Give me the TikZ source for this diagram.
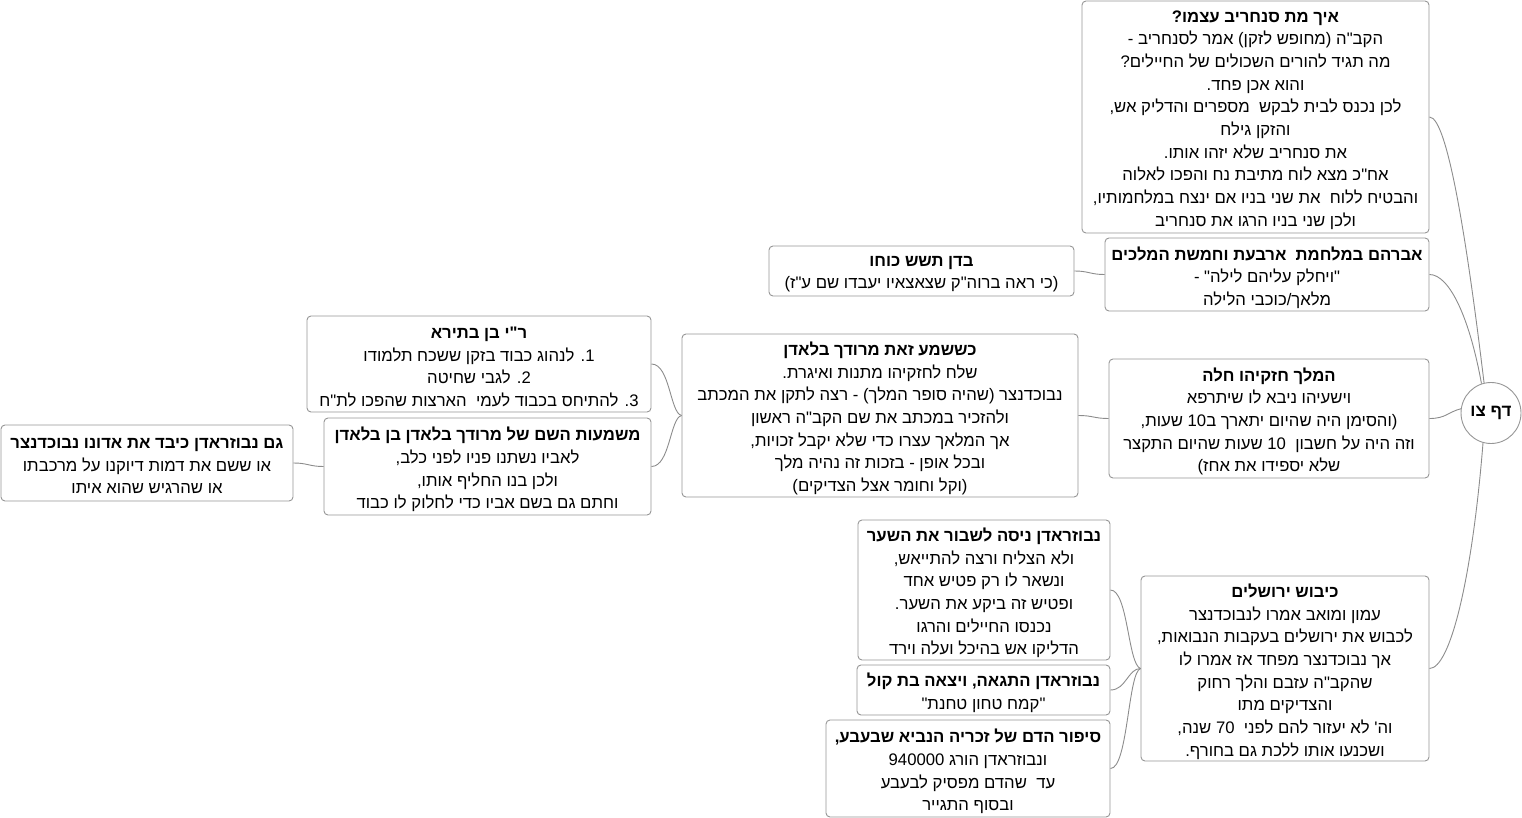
\documentclass[tikz,border=0pt]{standalone}
\usepackage{fontspec}
\setmainfont{Liberation Sans}
\newfontfamily\heb[Script=Hebrew]{Liberation Sans}
\TeXXeTstate=1
\usetikzlibrary{shapes.geometric}
\newcommand{\rl}[1]{\beginR #1\endR}
\definecolor{boxgray}{RGB}{150,150,150}
\definecolor{linegray}{RGB}{140,140,140}
\begin{document}
\begin{tikzpicture}[x=1pt,y=-1pt,
  frame/.style={draw=boxgray, line width=0.9pt, rounded corners=4pt, fill=white, inner sep=0pt},
  txt/.style={align=center, inner sep=0pt, font=\heb\fontsize{16.7}{22.65}\selectfont},
  rootnode/.style={draw=boxgray, line width=0.9pt, ellipse, fill=white, inner sep=0pt,
    font=\heb\fontsize{17}{20}\selectfont\bfseries},
  link/.style={draw=linegray, line width=0.9pt}]
\useasboundingbox (0,0) rectangle (1522,818);

\node[rootnode, minimum width=60pt, minimum height=61pt] (root) at (1491,413) {\rl{דף צו}};

% frames
\node[frame, minimum width=347pt, minimum height=232pt] (A) at (1255.5,117) {};
\node[frame, minimum width=324pt, minimum height=73pt] (B) at (1267,274.5) {};
\node[frame, minimum width=305pt, minimum height=50pt] (C) at (921.5,271) {};
\node[frame, minimum width=320pt, minimum height=119pt] (D) at (1269,418.5) {};
\node[frame, minimum width=396pt, minimum height=163pt] (E) at (880,415.5) {};
\node[frame, minimum width=344pt, minimum height=96pt] (F) at (479,364) {};
\node[frame, minimum width=327pt, minimum height=97pt] (G) at (487.5,466.5) {};
\node[frame, minimum width=292pt, minimum height=76pt] (H) at (147,463) {};
\node[frame, minimum width=288pt, minimum height=185pt] (I) at (1285,668.5) {};
\node[frame, minimum width=252pt, minimum height=140pt] (J) at (984,590) {};
\node[frame, minimum width=253pt, minimum height=50pt] (K) at (983.5,690) {};
\node[frame, minimum width=284pt, minimum height=97pt] (L) at (968,768.5) {};

% texts
\node[txt] (At) at ([yshift=-3pt]A.center) {%
\rl{\textbf{איך מת סנחריב עצמו?}}\\
\rl{הקב"ה (מחופש לזקן) אמר לסנחריב -}\\
\rl{מה תגיד להורים השכולים של החיילים?}\\
\rl{והוא אכן פחד.}\\
\rl{לכן נכנס לבית לבקש\ \ מספרים והדליק אש,}\\
\rl{והזקן גילח}\\
\rl{את סנחריב שלא יזהו אותו.}\\
\rl{אח"כ מצא לוח מתיבת נח והפכו לאלוה}\\
\rl{והבטיח ללוח\ \ את שני בניו אם ינצח במלחמותיו,}\\
\rl{ולכן שני בניו הרגו את סנחריב}};

\node[txt] (Bt) at ([yshift=-3pt]B.center) {%
\rl{\textbf{אברהם במלחמת\ \ ארבעת וחמשת המלכים}}\\
\rl{"ויחלק עליהם לילה" -}\\
\rl{מלאך/כוכבי הלילה}};

\node[txt] (Ct) at ([yshift=-3pt]C.center) {%
\rl{\textbf{בדן תשש כוחו}}\\
\rl{(כי ראה ברוה"ק שצאצאיו יעבדו שם ע"ז)}};

\node[txt] (Dt) at ([yshift=-3pt]D.center) {%
\rl{\textbf{המלך חזקיהו חלה}}\\
\rl{וישעיהו ניבא לו שיתרפא}\\
\rl{(והסימן היה שהיום יתארך ב10 שעות,}\\
\rl{וזה היה על חשבון\ \ 10 שעות שהיום התקצר}\\
\rl{שלא יספידו את אחז)}};

\node[txt] (Et) at ([yshift=-3pt]E.center) {%
\rl{\textbf{כששמע זאת מרודך בלאדן}}\\
\rl{שלח לחזקיהו מתנות ואיגרת.}\\
\rl{נבוכדנצר (שהיה סופר המלך) - רצה לתקן את המכתב}\\
\rl{ולהזכיר במכתב את שם הקב"ה ראשון}\\
\rl{אך המלאך עצרו כדי שלא יקבל זכויות,}\\
\rl{ובכל אופן - בזכות זה נהיה מלך}\\
\rl{(וקל וחומר אצל הצדיקים)}};

\node[txt] (Ft) at ([yshift=-3pt]F.center) {%
\rl{\textbf{ר"י בן בתירא}}\\
\rl{1. לנהוג כבוד בזקן ששכח תלמודו}\\
\rl{2. לגבי שחיטה}\\
\rl{3. להתיחס בכבוד לעמי\ \ הארצות שהפכו לת"ח}};

\node[txt] (Gt) at ([yshift=-3pt]G.center) {%
\rl{\textbf{משמעות השם של מרודך בלאדן בן בלאדן}}\\
\rl{לאביו נשתנו פניו לפני כלב,}\\
\rl{ולכן בנו החליף אותו,}\\
\rl{וחתם גם בשם אביו כדי לחלוק לו כבוד}};

\node[txt] (Ht) at ([yshift=-3pt]H.center) {%
\rl{\textbf{גם נבוזראדן כיבד את אדונו נבוכדנצר}}\\
\rl{או ששם את דמות דיוקנו על מרכבתו}\\
\rl{או שהרגיש שהוא איתו}};

\node[txt] (It) at ([yshift=-3pt]I.center) {%
\rl{\textbf{כיבוש ירושלים}}\\
\rl{עמון ומואב אמרו לנבוכדנצר}\\
\rl{לכבוש את ירושלים בעקבות הנבואות,}\\
\rl{אך נבוכדנצר מפחד אז אמרו לו}\\
\rl{שהקב"ה עזבם והלך רחוק}\\
\rl{והצדיקים מתו}\\
\rl{וה' לא יעזור להם לפני\ \ 70 שנה,}\\
\rl{ושכנעו אותו ללכת גם בחורף.}};

\node[txt] (Jt) at ([yshift=-3pt]J.center) {%
\rl{\textbf{נבוזראדן ניסה לשבור את השער}}\\
\rl{ולא הצליח ורצה להתייאש,}\\
\rl{ונשאר לו רק פטיש אחד}\\
\rl{ופטיש זה ביקע את השער.}\\
\rl{נכנסו החיילים והרגו}\\
\rl{הדליקו אש בהיכל ועלה וירד}};

\node[txt] (Kt) at ([yshift=-3pt]K.center) {%
\rl{\textbf{נבוזראדן התגאה, ויצאה בת קול}}\\
\rl{"קמח טחון טחנת"}};

\node[txt] (Lt) at ([yshift=-3pt]L.center) {%
\rl{\textbf{סיפור הדם של זכריה הנביא שבעבע,}}\\
\rl{ונבוזראדן הורג 940000}\\
\rl{עד\ \ שהדם מפסיק לבעבע}\\
\rl{ובסוף התגייר}};

% root connectors
\draw[link] (root.103) .. controls (1468,250) and (1448,117) .. (A.east);
\draw[link] (root.108) .. controls (1470,320) and (1450,274.5) .. (B.east);
\draw[link] (root.172) .. controls (1448,412) and (1446,418.5) .. (D.east);
\draw[link] (root.-105) .. controls (1472,580) and (1450,668.5) .. (I.east);
% sub connectors
\draw[link] (B.west) .. controls (1090,274.5) and (1089,271) .. (C.east);
\draw[link] (D.west) .. controls (1094,418.5) and (1093,415.5) .. (E.east);
\draw[link] (E.west) .. controls (670,413) and (670,364) .. (F.east);
\draw[link] (E.west) .. controls (670,418) and (670,466.5) .. (G.east);
\draw[link] (G.west) .. controls (309,466.5) and (308,463) .. (H.east);
\draw[link] (I.west) .. controls (1128,665) and (1128,590) .. (J.east);
\draw[link] (I.west) .. controls (1128,668.5) and (1126,690) .. (K.east);
\draw[link] (I.west) .. controls (1128,672) and (1128,768.5) .. (L.east);
\end{tikzpicture}
\end{document}
